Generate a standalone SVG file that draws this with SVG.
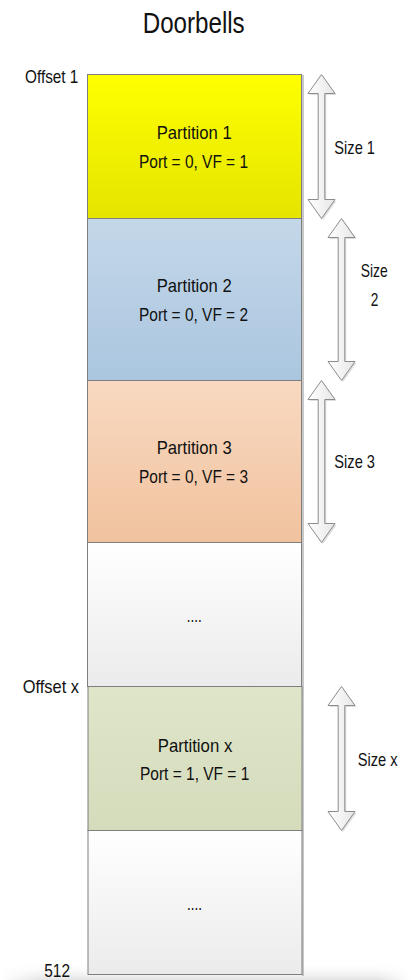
<svg xmlns="http://www.w3.org/2000/svg" width="411" height="980" viewBox="0 0 411 980">
  <style>
    text { font-family: "Liberation Sans", Arial, sans-serif; fill: #111; }
    .lbl { font-size: 19px; }
    .title { font-size: 29px; }
    .box { stroke: #7f7f7f; stroke-width: 1; }
    .shadow { fill: #9a9a9a; opacity: 0.55; }
    .arrow { fill: url(#gArrow); stroke: #8c8c8c; stroke-width: 1; stroke-linejoin: miter; }
    .arrowShadow { fill: #c8c8c8; opacity: 0.6; }
  </style>
  <defs>
    <linearGradient id="gYellow" x1="0" y1="0" x2="0" y2="1">
      <stop offset="0" stop-color="#ffff00"/>
      <stop offset="1" stop-color="#e4e400"/>
    </linearGradient>
    <linearGradient id="gBlue" x1="0" y1="0" x2="0" y2="1">
      <stop offset="0" stop-color="#c4d7e9"/>
      <stop offset="1" stop-color="#aac6df"/>
    </linearGradient>
    <linearGradient id="gOrange" x1="0" y1="0" x2="0" y2="1">
      <stop offset="0" stop-color="#f8d9c1"/>
      <stop offset="1" stop-color="#f1c29e"/>
    </linearGradient>
    <linearGradient id="gWhite" x1="0" y1="0" x2="0" y2="1">
      <stop offset="0" stop-color="#ffffff"/>
      <stop offset="1" stop-color="#ebebeb"/>
    </linearGradient>
    <linearGradient id="gGreen" x1="0" y1="0" x2="0" y2="1">
      <stop offset="0" stop-color="#dfe5c9"/>
      <stop offset="1" stop-color="#d5dcbc"/>
    </linearGradient>
    <linearGradient id="gArrow" x1="0" y1="0" x2="1" y2="0">
      <stop offset="0" stop-color="#ffffff"/>
      <stop offset="1" stop-color="#e6e6e6"/>
    </linearGradient>
    <linearGradient id="gFloor" x1="0" y1="0" x2="0" y2="1">
      <stop offset="0" stop-color="#ffffff" stop-opacity="0"/>
      <stop offset="1" stop-color="#e4e4e4" stop-opacity="1"/>
    </linearGradient>
    <linearGradient id="gFloorMask" x1="0" y1="0" x2="1" y2="0">
      <stop offset="0" stop-color="#000"/>
      <stop offset="0.1" stop-color="#fff"/>
      <stop offset="0.92" stop-color="#fff"/>
      <stop offset="1" stop-color="#000"/>
    </linearGradient>
    <mask id="floorMask">
      <rect x="0" y="960" width="411" height="20" fill="url(#gFloorMask)"/>
    </mask>
    <!-- double-headed block arrow, 144 tall, centred on x=0 -->
    <path id="dblArrow" d="M0,0 L13.5,19 L3.3,19 L3.3,125 L13.5,125 L0,144 L-13.5,125 L-3.3,125 L-3.3,19 L-13.5,19 Z"/>
    <path id="dblArrowTall" d="M0,0 L13.5,19 L3.3,19 L3.3,143 L13.5,143 L0,162 L-13.5,143 L-3.3,143 L-3.3,19 L-13.5,19 Z"/>
  </defs>

  <rect width="411" height="980" fill="#ffffff"/>
  <!-- soft floor under the stack -->
  <rect x="0" y="962" width="411" height="18" fill="url(#gFloor)" mask="url(#floorMask)"/>

  <text class="title" x="142.7" y="33.3" textLength="102" lengthAdjust="spacingAndGlyphs">Doorbells</text>

  <!-- right-edge shadow of the stack -->
  <rect class="shadow" x="302" y="75" width="2" height="901"/>

  <g id="partition1">
    <rect class="box" x="87.5" y="74.5" width="214" height="144" fill="url(#gYellow)"/>
    <text class="lbl" x="156.7" y="138.7" textLength="75" lengthAdjust="spacingAndGlyphs">Partition 1</text>
    <text class="lbl" x="139" y="167.5" textLength="109" lengthAdjust="spacingAndGlyphs">Port = 0, VF = 1</text>
  </g>
  <g id="partition2">
    <rect class="box" x="87.5" y="218.5" width="214" height="162" fill="url(#gBlue)"/>
    <text class="lbl" x="156.7" y="291.7" textLength="75" lengthAdjust="spacingAndGlyphs">Partition 2</text>
    <text class="lbl" x="139" y="320.7" textLength="109" lengthAdjust="spacingAndGlyphs">Port = 0, VF = 2</text>
  </g>
  <g id="partition3">
    <rect class="box" x="87.5" y="380.5" width="214" height="162" fill="url(#gOrange)"/>
    <text class="lbl" x="156.7" y="454" textLength="75" lengthAdjust="spacingAndGlyphs">Partition 3</text>
    <text class="lbl" x="139" y="482.7" textLength="109" lengthAdjust="spacingAndGlyphs">Port = 0, VF = 3</text>
  </g>
  <g id="gap1">
    <rect class="box" x="87.5" y="542.5" width="214" height="144" fill="url(#gWhite)"/>
    <text class="lbl" x="186.7" y="622" textLength="15" lengthAdjust="spacingAndGlyphs">....</text>
  </g>
  <g id="partitionX">
    <rect class="box" x="88" y="686.5" width="214" height="144" fill="url(#gGreen)"/>
    <text class="lbl" x="157.7" y="751.7" textLength="74.6" lengthAdjust="spacingAndGlyphs">Partition x</text>
    <text class="lbl" x="140" y="780" textLength="109.3" lengthAdjust="spacingAndGlyphs">Port = 1, VF = 1</text>
  </g>
  <g id="gap2">
    <rect class="box" x="88" y="830.5" width="214" height="144" fill="url(#gWhite)"/>
    <text class="lbl" x="187" y="910" textLength="15" lengthAdjust="spacingAndGlyphs">....</text>
  </g>

  <!-- offset labels -->
  <g id="offsets">
    <text class="lbl" x="25" y="83" textLength="53.3" lengthAdjust="spacingAndGlyphs">Offset 1</text>
    <text class="lbl" x="22.7" y="693.3" textLength="56.3" lengthAdjust="spacingAndGlyphs">Offset x</text>
    <text class="lbl" x="44.3" y="976.5" textLength="25.7" lengthAdjust="spacingAndGlyphs">512</text>
  </g>

  <!-- size arrows -->
  <g id="connectors">
    <use href="#dblArrow" class="arrowShadow" x="323" y="76"/>
    <use href="#dblArrow" class="arrow" x="321.5" y="74.5"/>
    <use href="#dblArrowTall" class="arrowShadow" x="343" y="220"/>
    <use href="#dblArrowTall" class="arrow" x="341.5" y="218.5"/>
    <use href="#dblArrowTall" class="arrowShadow" x="323" y="382"/>
    <use href="#dblArrowTall" class="arrow" x="321.5" y="380.5"/>
    <use href="#dblArrow" class="arrowShadow" x="343" y="688"/>
    <use href="#dblArrow" class="arrow" x="341.5" y="686.5"/>
  </g>

  <g id="sizes">
    <text class="lbl" x="334.3" y="154" textLength="40.7" lengthAdjust="spacingAndGlyphs">Size 1</text>
    <text class="lbl" x="360.7" y="277.3" textLength="27" lengthAdjust="spacingAndGlyphs">Size</text>
    <text class="lbl" x="370.7" y="306" textLength="7.6" lengthAdjust="spacingAndGlyphs">2</text>
    <text class="lbl" x="334.3" y="468.3" textLength="40.7" lengthAdjust="spacingAndGlyphs">Size 3</text>
    <text class="lbl" x="357.7" y="765.7" textLength="40" lengthAdjust="spacingAndGlyphs">Size x</text>
  </g>
</svg>
